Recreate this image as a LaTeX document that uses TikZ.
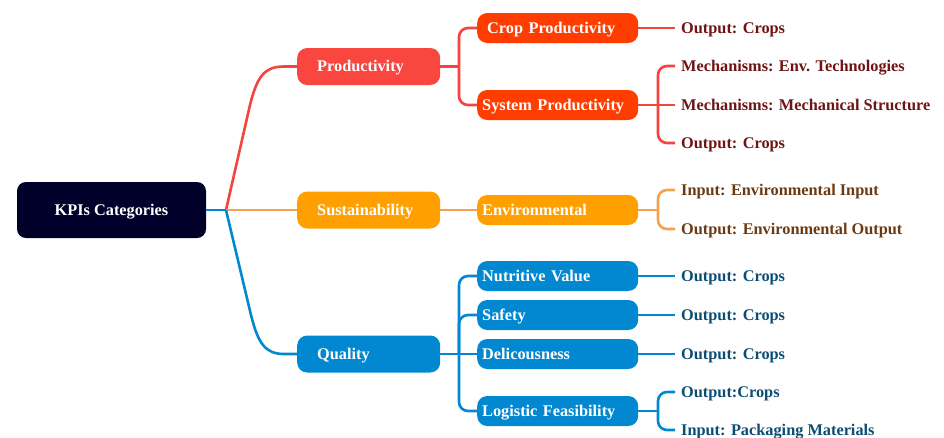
\documentclass[tikz,border=0pt]{standalone}
\usepackage{fontspec}
\setmainfont{Liberation Serif}
\usepackage{xcolor}
\usepackage{tikz}
\usetikzlibrary{positioning,calc}
\definecolor{rootc}{HTML}{00002B}
\definecolor{pred}{HTML}{F9463F}
\definecolor{predd}{HTML}{FF3D00}
\definecolor{predl}{HTML}{F5433E}
\definecolor{predt}{HTML}{6E1414}
\definecolor{porg}{HTML}{FFA000}
\definecolor{porgl}{HTML}{F4A24E}
\definecolor{porgt}{HTML}{6B3A12}
\definecolor{pblu}{HTML}{0288D1}
\definecolor{pblut}{HTML}{0D4D73}
\tikzset{
  % boxes of the three levels and the plain leaves
  rootbox/.style = {rectangle, rounded corners=9pt, fill=rootc, text=white, font=\fontsize{16.3}{18}\selectfont\bfseries,
                    minimum width=189pt, minimum height=56pt, inner sep=0pt, text height=10.5pt, text depth=0pt},
  catbox/.style  = {rectangle, rounded corners=10pt, fill=#1, text=white, font=\fontsize{16.3}{18}\selectfont\bfseries,
                    minimum height=37pt, text width=103pt, align=left, inner xsep=20pt, inner ysep=0pt, anchor=west,
                    text height=10.5pt, text depth=0pt},
  subbox/.style  = {rectangle, rounded corners=10pt, fill=#1, text=white, font=\fontsize{16.3}{18}\selectfont\bfseries,
                    minimum height=30pt, text width=151pt, align=left, inner xsep=5pt, inner ysep=0pt, anchor=west,
                    text height=10.5pt, text depth=0pt},
  leaf/.style    = {text=#1, font=\fontsize{16.3}{18}\selectfont\bfseries, inner xsep=6pt, inner ysep=0pt, anchor=west,
                    text height=10.5pt, text depth=0pt},
  link/.style    = {line width=2.6pt, draw=#1, rounded corners=9pt},
}
\begin{document}
\begin{tikzpicture}[x=1pt,y=-1pt]
\clip (0,0) rectangle (944,437);
% root
\node[rootbox] (kpi) at (111.5,210) {KPIs Categories};
\coordinate (fork) at (226,210);
% categories
\node[catbox=pred] (prod) at (297,66.5) {Productivity};
\node[catbox=porg] (sust) at (297,210) {Sustainability};
\node[catbox=pblu] (qual) at (297,354) {Quality};
% sub categories
\node[subbox=predd] (crop) at (477,28) {\hspace{5pt}Crop Productivity};
\node[subbox=predd] (sys) at (477,105) {System Productivity};
\node[subbox=porg] (env) at (477,210) {Environmental};
\node[subbox=pblu] (nut) at (477,276) {Nutritive Value};
\node[subbox=pblu] (saf) at (477,315) {Safety};
\node[subbox=pblu] (del) at (477,354) {Delicousness};
\node[subbox=pblu] (logi) at (477,411) {Logistic Feasibility};
% leaves
\node[leaf=predt] (l1) at (675,28) {Output: Crops};
\node[leaf=predt] (l2) at (675,66) {Mechanisms: Env. Technologies};
\node[leaf=predt] (l3) at (675,105) {Mechanisms: Mechanical Structure};
\node[leaf=predt] (l4) at (675,143) {Output: Crops};
\node[leaf=porgt] (l5) at (675,190) {Input: Environmental Input};
\node[leaf=porgt] (l6) at (675,229) {Output: Environmental Output};
\node[leaf=pblut] (l7) at (675,276) {Output: Crops};
\node[leaf=pblut] (l8) at (675,315) {Output: Crops};
\node[leaf=pblut] (l9) at (675,354) {Output: Crops};
\node[leaf=pblut] (l10) at (675,392) {Output:Crops};
\node[leaf=pblut] (l11) at (675,430) {Input: Packaging Materials};
% bus points
\coordinate (pbus) at (459,66.5);
\coordinate (qbus) at (459,354);
\coordinate (sbus) at (658,105);
\coordinate (ebus) at (658,210);
\coordinate (gbus) at (658,411);
% root to categories
\draw[link=predl, rounded corners=0pt] (fork) -- (250,105) .. controls (257,77) and (264,66.5) .. (284,66.5) -- (prod.west);
\draw[link=porgl] (fork) -- (sust.west);
\draw[link=pblu, rounded corners=0pt] (fork) -- (251,315) .. controls (258,343) and (265,354) .. (284,354) -- (qual.west);
\draw[link=pblu] (kpi.east) -- (fork);
% categories to sub categories
\draw[link=predl] (prod.east) -- (pbus);
\draw[link=predl] (crop.west) -| (pbus) |- (sys.west);
\draw[link=porgl] (sust.east) -- (env.west);
\draw[link=pblu] (qual.east) -- (del.west);
\draw[link=pblu] (qbus) |- (nut.west);
\draw[link=pblu] (qbus) |- (saf.west);
\draw[link=pblu] (qbus) |- (logi.west);
% sub categories to leaves
\draw[link=predl] (crop.east) -- (l1.west);
\draw[link=predl] (sys.east) -- (sbus);
\draw[link=predl] (l2.west) -| (sbus) |- (l4.west);
\draw[link=predl] (sbus) -- (l3.west);
\draw[link=porgl] (env.east) -- (ebus);
\draw[link=porgl] (l5.west) -| (ebus) |- (l6.west);
\draw[link=pblu] (nut.east) -- (l7.west);
\draw[link=pblu] (saf.east) -- (l8.west);
\draw[link=pblu] (del.east) -- (l9.west);
\draw[link=pblu] (logi.east) -- (gbus);
\draw[link=pblu] (l10.west) -| (gbus) |- (l11.west);
\end{tikzpicture}
\end{document}
